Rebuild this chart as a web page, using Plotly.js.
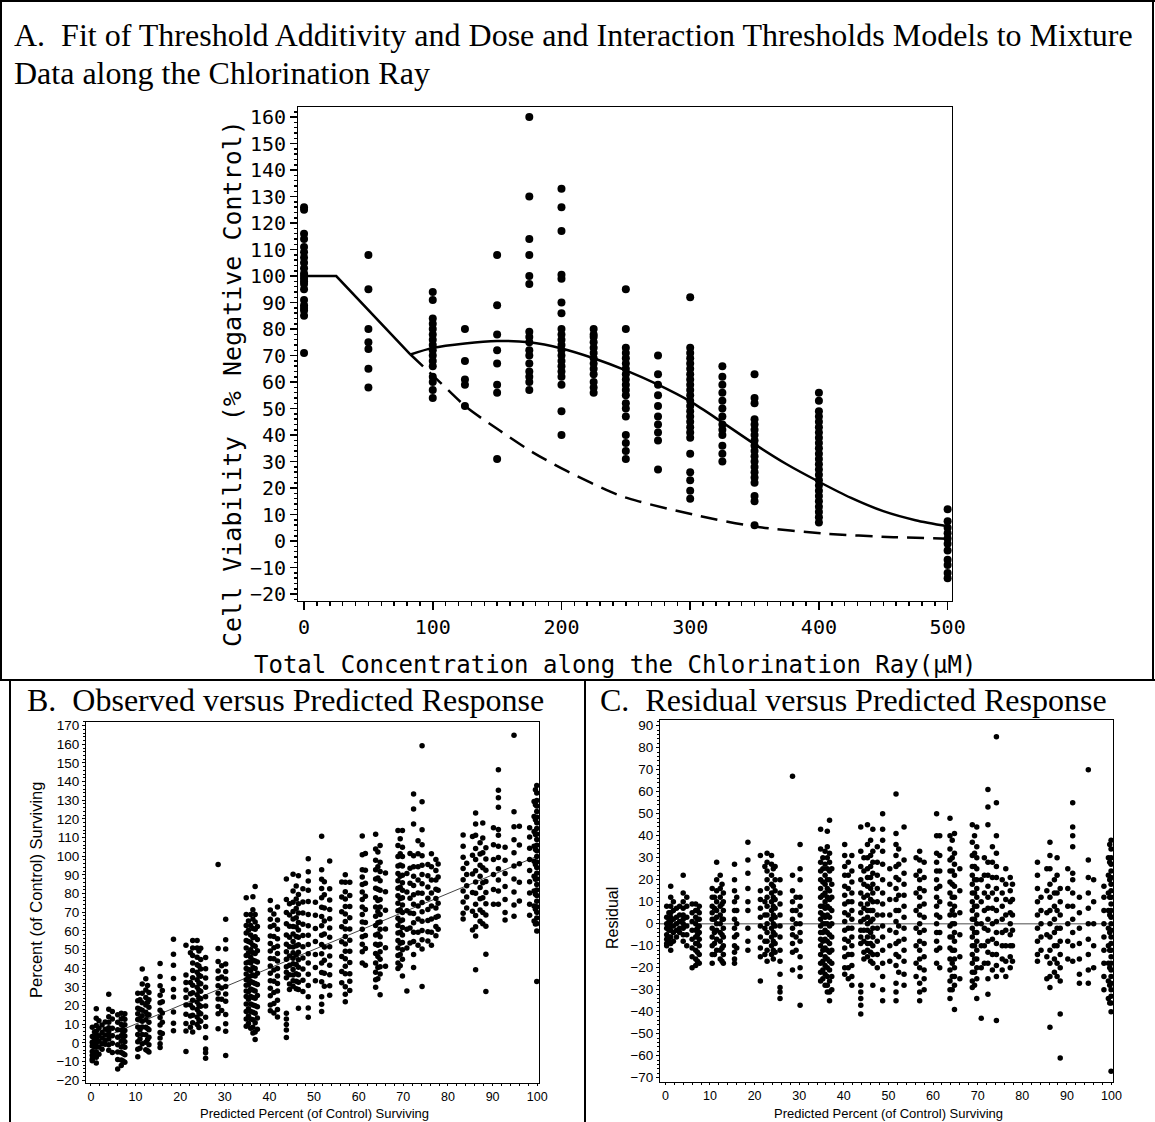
<!DOCTYPE html>
<html><head><meta charset="utf-8">
<script src="https://cdn.plot.ly/plotly-3.0.1.min.js"></script>
<style>body{margin:0;padding:0;background:#fff}#chart{width:1155px;height:1122px}</style>
</head><body><div id="chart"></div>
<script>
// ---------- Panel A data ----------
const concA = [0, 50, 100, 125, 150, 175, 200, 225, 250, 275, 300, 325, 350, 400, 500];
const viabA = [
  [126,125,116,114,111,109,107,105,103,101,100,99,98,97,95,91,89,88,87,85,71],
  [108,95,80,75,72.5,65,58],
  [94,91,84,82,80,78,76,74,72,70,68,66,62,60,57,54],
  [80,68,61,59,51],
  [108,89,78,72,67,59,56,31],
  [160,130,114,108,100,97,79,77,75,72,70,67,64,62,60,57],
  [133,126,117,100.5,99,90,86,80,78,76,74,72,70,68,66,64,62,59,49,40],
  [80,78,77,75,73,71,69,67,65,63,60,58,56],
  [95,80,73,71,69,67,65,63,61,59,57,55,52,50,47,40,37,34,31],
  [70,63,59,55,51,47,44,41,38,27],
  [92,73,71,69,67,65,63,61,59,57,55,53,51,49,47,45,43,41,39,33,26,23,19,16],
  [66,62,59,56,53,50,47,44,42,40,36,33,30],
  [63,54,52,46,44,42,40,38,36,34,32,30,28,26,24,22,17,15,6],
  [56,53,49,47,45,43,41,39,37,35,33,31,29,27,25,23,21,19,17,15,13,11,9,7],
  [12,7.5,5,3,1,-1,-3.5,-7,-9,-12,-14]
];
// threshold-additivity fit (solid): flat, linear drop to the kink, then smooth curve
const solidX = [0, 25, 82.7, 100, 125, 150, 175, 200, 225, 250, 275, 300, 325, 350, 375, 400, 425, 450, 475, 500];
const solidY = [100, 100, 70.4, 72.9, 74.6, 75.5, 75.0, 72.7, 69.0, 64.4, 59.0, 52.7, 44.8, 36.6, 29.0, 22.4, 16.3, 11.3, 7.9, 5.6];
const kinkIndex = 2;
const dashX = [82.7, 105.5, 126.3, 152, 178, 204, 243, 260, 302.5, 349, 406, 458, 500];
const dashY = [70.4, 60.0, 50.5, 41.7, 33.4, 26.5, 17.6, 15.0, 10.0, 5.6, 2.8, 1.5, 0.9];
const xTicksA = [0, 100, 200, 300, 400, 500];

// ---------- Panels B & C data (predicted value columns and their residuals) ----------
const predicted = [0.3,1.2,1.8,2.5,4.0,4.8,6.0,6.8,7.6,10.5,11.5,12.3,13.0,15.5,18.5,21.3,22.8,23.8,24.6,25.7,
  28.5,30.2,34.8,35.8,36.8,40.2,41.8,43.8,45.3,46.5,48.7,51.7,53.5,57.0,58.0,60.8,63.8,64.8,68.8,69.8,
  70.8,72.3,74.2,75.5,77.3,83.4,84.2,86.2,87.2,88.5,91.3,92.8,94.8,98.3,99.3,99.9,
  0.8,3.2,7.2,11.0,12.7,16.0,22.3,24.2,29.3,35.3,36.3,37.3,41.0,44.5,46.0,47.5,50.3,52.3,56.2,61.5,
  64.3,66.0,69.3,71.5,73.3,76.3,77.8,85.5,87.8,90.2,96.0,99.6];
const residual = [
  [8,3,0,-2,-5,-7,-9,-10],
  [17,12,8,5,3,1,-1,-3,-6,-9,-12],
  [10,6,2,-1,-4,-8],
  [7,3,0,-3,-6],
  [22,14,10,7,4,2,0,-2,-5,-8],
  [12,8,3,-1,-5,-10],
  [9,5,1,-3,-7,-11,-15,-20],
  [9,6,3,0,-3,-6,-9,-12,-16,-19],
  [8,5,2,-1,-4,-7,-10,-14,-18],
  [16,12,8,5,2,-2,-6,-10,-14,-18],
  [28,20,15,10,6,3,0,-3,-7,-12],
  [22,16,12,8,4,0,-4,-8,-12,-16],
  [14,10,6,2,-2,-6,-10,-14,-18],
  [27,20,15,10,6,2,-2,-6,-10,-13,-16,-18],
  [37,29,23,16,10,6,-2,-8,-12],
  [31,15,11,7,3,-1,-6,-11,-15,-26],
  [32,28,24,20,16,12,8,4,0,-4,-8,-12,-17],
  [31,27,22,18,14,10,6,2,-2,-6,-10,-14],
  [26,20,15,11,7,3,-1,-5,-9,-13],
  [20,14,9,4,-1,-6,-12,-17,-23,-29,-31,-34],
  [67,22,15,10,6,2,-2,-5,-9,-13,-21],
  [36,25,20,12,8,4,0,-4,-8,-15,-20,-24,-37],
  [43,34,28,24,20,16,12,8,5,2,-1,-4,-7,-10,-14,-18,-22,-26],
  [33,27,22,18,14,10,7,3,0,-3,-7,-11,-15,-19,-23,-28],
  [47,32,28,24,20,15,11,7,3,-1,-5,-9,-13,-17,-21,-26,-31,-35],
  [36,31,26,22,17,13,9,5,1,-3,-7,-11,-15,-20,-23],
  [31,24,19,14,10,6,2,-2,-6,-10,-14,-19,-24,-28],
  [44,33,26,20,14,9,5,1,-3,-6,-9,-28,-31,-34,-37,-41],
  [45,36,30,25,21,17,13,9,6,3,0,-3,-6,-9,-12,-15],
  [43,33,28,23,18,14,10,6,2,-2,-6,-10,-14,-18,-28],
  [50,43,38,33,27,20,14,9,4,-1,-6,-12,-18,-24,-30,-35],
  [59,41,36,31,26,21,16,11,6,1,-4,-9,-14,-19,-27,-31,-35],
  [44,29,23,18,13,8,3,-2,-7,-12,-17,-23,-28],
  [33,29,24,20,16,12,8,4,0,-4,-8,-12,-16,-20,-27,-31,-35],
  [28,21,15,9,3,-3,-9,-15,-21,-25,-30],
  [50,40,32,28,24,20,16,12,8,4,0,-4,-8,-12,-18],
  [48,40,34,29,24,19,14,9,4,-1,-6,-11,-16,-21,-26,-30,-34],
  [41,32,27,22,17,12,8,4,0,-4,-8,-12,-16,-20,-24,-28,-39],
  [45,37,31,26,22,18,14,10,6,2,-2,-6,-10,-14,-18,-22,-26,-29],
  [44,35,30,25,20,16,12,8,4,0,-4,-8,-12,-16,-20,-25,-34],
  [20,10,0,-10,-20,-43],
  [61,53,45,28,22,17,12,7,2,-3,-8,-13,-18,-25,-32],
  [85,55,40,32,26,21,16,11,6,1,-4,-9,-14,-19,-24,-44],
  [20,14,8,2,-4,-10,-16,-21],
  [21,15,10,5,0,-5,-10,-15,-20],
  [28,22,16,10,4,-2,-8,-14,-17],
  [12,6,0,-6,-12],
  [37,31,25,18,12,6,0,-6,-12,-18,-24,-29,-47],
  [20,14,8,2,-4,-10,-16,-22],
  [16,10,4,-2,-8,-14,-20,-26,-41,-61],
  [55,44,40,35,23,20,14,8,2,-4,-10,-17],
  [12,5,-2,-9,-16,-23,-27],
  [70,29,21,14,7,0,-7,-14,-21,-27],
  [17,12,6,0,-6,-12,-18,-24,-30],
  [30,22,14,6,-2,-10,-18,-26,-34],
  [38,34,30,27,24,21,18,15,12,9,6,3,0,-3,-6,-9,-12,-15,-18,-21,-24,-27,-30,-33,-36,-40,-67],
  [5,1,-3,-6,-8],
  [8,4,1,-2,-4],
  [6,2,-2,-5,-9,-13,-17],
  [12,7,2,-4,-9,-14],
  [18,9,2,-5,-11,-17],
  [12,6,0,-5,-11],
  [26,10,4,-2,-8,-14],
  [25,17,12,8,4,0,-4,-8,-12,-16],
  [12,6,0,-6,-12],
  [30,25,19,13,8,4,0,-4,-8,-12,-17,-21,-25],
  [42,35,30,25,20,16,12,8,4,0,-4,-8,-12,-16,-20,-24,-28,-31],
  [25,18,12,6,0,-6,-12,-18,-24,-30],
  [28,22,16,10,4,-2,-8,-14,-20,-25],
  [30,24,18,12,7,2,-3,-8,-13,-16],
  [38,31,26,21,16,11,6,1,-4,-9,-13,-17],
  [35,28,22,16,10,4,-2,-8,-14,-20],
  [25,18,11,4,-3,-10,-17],
  [34,27,20,13,6,-1,-8,-15,-22],
  [30,22,14,6,-2,-10,-18,-24],
  [40,31,24,17,10,3,-4,-11,-20],
  [38,30,24,18,12,6,0,-6,-12,-18,-24,-30],
  [25,15,5,-5,-15,-25],
  [40,32,26,20,14,8,2,-4,-10,-16,-22,-28],
  [30,22,14,6,-2,-10,-18],
  [35,28,21,14,7,0,-7,-14,-21],
  [25,18,11,4,-3,-10,-17,-24],
  [18,11,4,-3,-10,-17],
  [25,15,5,-5,-15,-25],
  [30,22,14,6,-2,-10,-18,-24],
  [25,16,8,0,-8,-16],
  [20,10,0,-10,-20],
  [36,28,20,12,4,-4,-12,-20,-28,-36]
];

// ---------- build traces ----------
const ax = [], ay = [];
concA.forEach((c, i) => viabA[i].forEach(v => { ax.push(c); ay.push(v); }));
const px = [], obs = [], res = [];
predicted.forEach((p, i) => residual[i].forEach(r => {
  px.push(p); obs.push(Math.round((p + r) * 10) / 10); res.push(r);
}));

const W = 1155, H = 1122;
const fx = v => v / W, fy = v => 1 - v / H;

const traces = [
  {x: ax, y: ay, type: 'scatter', mode: 'markers', marker: {color: '#000', size: 8}, xaxis: 'x', yaxis: 'y'},
  {x: solidX.slice(0, kinkIndex + 1), y: solidY.slice(0, kinkIndex + 1), type: 'scatter', mode: 'lines',
   line: {color: '#000', width: 2.5}, xaxis: 'x', yaxis: 'y'},
  {x: solidX.slice(kinkIndex), y: solidY.slice(kinkIndex), type: 'scatter', mode: 'lines',
   line: {color: '#000', width: 2.5, shape: 'spline', smoothing: 0.8}, xaxis: 'x', yaxis: 'y'},
  {x: dashX, y: dashY, type: 'scatter', mode: 'lines', line: {color: '#000', width: 2.5, dash: '17px,9px', shape: 'spline', smoothing: 0.8}, xaxis: 'x', yaxis: 'y'},
  {x: [0.3, 100], y: [0.3, 100], type: 'scatter', mode: 'lines', line: {color: '#444', width: 1}, xaxis: 'x2', yaxis: 'y2'},
  {x: px, y: obs, type: 'scatter', mode: 'markers', marker: {color: '#000', size: 5.5}, xaxis: 'x2', yaxis: 'y2'},
  {x: px, y: res, type: 'scatter', mode: 'markers', marker: {color: '#000', size: 5.5}, xaxis: 'x3', yaxis: 'y3'}
];

const monoTick = {family: 'DejaVu Sans Mono', size: 20, color: '#000'};
const sansTickX = {family: 'Liberation Sans, Arial', size: 12.5, color: '#000'};
const sansTickY = {family: 'Liberation Sans, Arial', size: 13.5, color: '#000'};
const baseAx = {showgrid: false, zeroline: false, showline: true, mirror: true, linecolor: '#000', linewidth: 1, ticks: 'outside', tickcolor: '#000'};

const layout = {
  width: W, height: H, margin: {l: 0, r: 0, t: 0, b: 0},
  paper_bgcolor: '#fff', plot_bgcolor: '#fff', showlegend: false,
  xaxis: Object.assign({}, baseAx, {domain: [fx(298), fx(952)], range: [-4.7, 503.4], tickvals: xTicksA,
    ticklen: 8, tickwidth: 1.5, tickfont: monoTick, anchor: 'y',
    minor: {dtick: 10, tick0: 0, ticklen: 4, ticks: 'outside', tickcolor: '#000'}}),
  yaxis: Object.assign({}, baseAx, {domain: [fy(601), fy(107)], range: [-22.6, 163.8], tick0: 0, dtick: 10,
    ticklen: 7, tickwidth: 1.5, tickfont: monoTick, anchor: 'x',
    minor: {dtick: 2, tick0: 0, ticklen: 3, ticks: 'outside', tickcolor: '#000'}}),
  xaxis2: Object.assign({}, baseAx, {domain: [fx(86), fx(539)], range: [-1.1, 100.4], tick0: 0, dtick: 10,
    ticklen: 2, tickfont: sansTickX, anchor: 'y2',
    minor: {dtick: 2, ticklen: 2, ticks: 'outside', tickcolor: '#000'}}),
  yaxis2: Object.assign({}, baseAx, {domain: [fy(1082.7), fy(721.7)], range: [-21.4, 172.1], tick0: 0, dtick: 10,
    ticklen: 3, tickfont: sansTickY, anchor: 'x2',
    minor: {dtick: 2, ticklen: 2, ticks: 'outside', tickcolor: '#000'}}),
  xaxis3: Object.assign({}, baseAx, {domain: [fx(660), fx(1113.3)], range: [-1.2, 100.4], tick0: 0, dtick: 10,
    ticklen: 2, tickfont: sansTickX, anchor: 'y3',
    minor: {dtick: 2, ticklen: 2, ticks: 'outside', tickcolor: '#000'}}),
  yaxis3: Object.assign({}, baseAx, {domain: [fy(1081.7), fy(720)], range: [-71.8, 92.6], tick0: 0, dtick: 10,
    ticklen: 3, tickfont: sansTickY, anchor: 'x3',
    minor: {dtick: 2, ticklen: 2, ticks: 'outside', tickcolor: '#000'}}),
  shapes: [
    {type: 'line', xref: 'x3 domain', yref: 'y3', x0: 0, x1: 1, y0: 0, y1: 0, line: {color: '#888', width: 1.5}, layer: 'below'},
    {type: 'line', xref: 'paper', yref: 'paper', x0: 0, x1: 1, y0: fy(1), y1: fy(1), line: {color: '#000', width: 2}},
    {type: 'line', xref: 'paper', yref: 'paper', x0: fx(1), x1: fx(1), y0: fy(0), y1: fy(680), line: {color: '#000', width: 2}},
    {type: 'line', xref: 'paper', yref: 'paper', x0: fx(1153), x1: fx(1153), y0: fy(0), y1: fy(680), line: {color: '#000', width: 2}},
    {type: 'line', xref: 'paper', yref: 'paper', x0: 0, x1: 1, y0: fy(680), y1: fy(680), line: {color: '#000', width: 2}},
    {type: 'line', xref: 'paper', yref: 'paper', x0: fx(10), x1: fx(10), y0: fy(680), y1: 0, line: {color: '#000', width: 2}},
    {type: 'line', xref: 'paper', yref: 'paper', x0: fx(585), x1: fx(585), y0: fy(680), y1: 0, line: {color: '#000', width: 2}}
  ],
  annotations: [
    {xref: 'paper', yref: 'paper', x: fx(12), y: fy(35), xanchor: 'left', yanchor: 'middle', showarrow: false,
     text: 'A.  Fit of Threshold Additivity and Dose and Interaction Thresholds Models to Mixture',
     font: {family: 'Liberation Serif, Times New Roman', size: 32, color: '#000'}},
    {xref: 'paper', yref: 'paper', x: fx(12), y: fy(73), xanchor: 'left', yanchor: 'middle', showarrow: false,
     text: 'Data along the Chlorination Ray',
     font: {family: 'Liberation Serif, Times New Roman', size: 32, color: '#000'}},
    {xref: 'paper', yref: 'paper', x: fx(615), y: fy(665), xanchor: 'center', yanchor: 'middle', showarrow: false,
     text: 'Total Concentration along the Chlorination Ray(μM)',
     font: {family: 'DejaVu Sans Mono', size: 24, color: '#000'}},
    {xref: 'paper', yref: 'paper', x: fx(232), y: fy(384), xanchor: 'center', yanchor: 'middle', showarrow: false, textangle: -90,
     text: 'Cell Viability (% Negative Control)',
     font: {family: 'DejaVu Sans Mono', size: 25, color: '#000'}},
    {xref: 'paper', yref: 'paper', x: fx(25), y: fy(700), xanchor: 'left', yanchor: 'middle', showarrow: false,
     text: 'B.  Observed versus Predicted Response',
     font: {family: 'Liberation Serif, Times New Roman', size: 32, color: '#000'}},
    {xref: 'paper', yref: 'paper', x: fx(598), y: fy(700), xanchor: 'left', yanchor: 'middle', showarrow: false,
     text: 'C.  Residual versus Predicted Response',
     font: {family: 'Liberation Serif, Times New Roman', size: 32, color: '#000'}},
    {xref: 'paper', yref: 'paper', x: fx(314), y: 0, xanchor: 'center', yanchor: 'bottom', showarrow: false, borderpad: 0,
     text: 'Predicted Percent (of Control) Surviving', font: {family: 'Liberation Sans, Arial', size: 13, color: '#000'}},
    {xref: 'paper', yref: 'paper', x: fx(888), y: 0, xanchor: 'center', yanchor: 'bottom', showarrow: false, borderpad: 0,
     text: 'Predicted Percent (of Control) Surviving', font: {family: 'Liberation Sans, Arial', size: 13, color: '#000'}},
    {xref: 'paper', yref: 'paper', x: fx(36), y: fy(890), xanchor: 'center', yanchor: 'middle', showarrow: false, textangle: -90,
     text: 'Percent (of Control) Surviving', font: {family: 'Liberation Sans, Arial', size: 16.5, color: '#000'}},
    {xref: 'paper', yref: 'paper', x: fx(612), y: fy(918), xanchor: 'center', yanchor: 'middle', showarrow: false, textangle: -90,
     text: 'Residual', font: {family: 'Liberation Sans, Arial', size: 16, color: '#000'}}
  ]
};

Plotly.newPlot('chart', traces, layout, {staticPlot: true, displayModeBar: false});
</script>
</body></html>
